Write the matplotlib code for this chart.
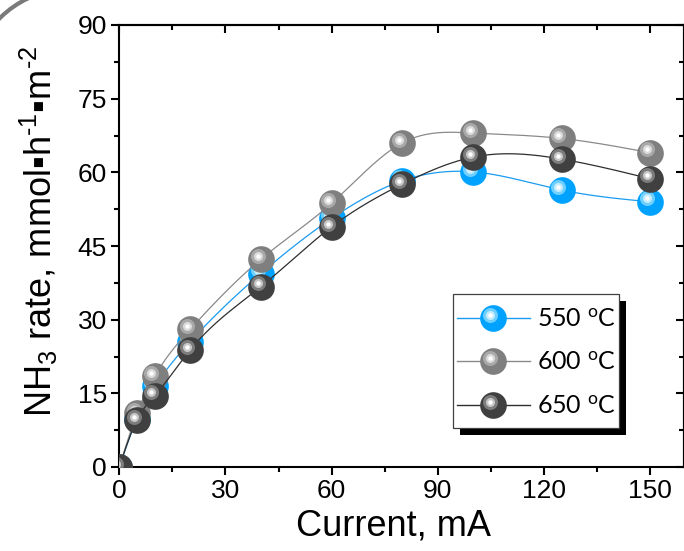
import numpy as np
import matplotlib
matplotlib.use("Agg")
import matplotlib.pyplot as plt
from matplotlib.lines import Line2D
from matplotlib.patches import Rectangle, Arc
from matplotlib.transforms import ScaledTranslation
from matplotlib.ticker import MultipleLocator
from matplotlib.legend_handler import HandlerBase

# data
current = [0, 5, 10, 20, 40, 60, 80, 100, 125, 150]
rate_550 = [0, 9.8, 16.4, 25.5, 39.4, 50.6, 58.3, 60.1, 56.4, 54.0]
rate_600 = [0, 10.9, 18.5, 28.0, 42.3, 53.7, 66.0, 68.0, 66.9, 64.0]
rate_650 = [0, 9.6, 14.5, 23.8, 36.7, 48.9, 57.6, 63.1, 62.7, 58.7]
labels = ["550 $^{\\mathdefault{o}}$C", "600 $^{\\mathdefault{o}}$C", "650 $^{\\mathdefault{o}}$C"]

# sphere look: base, ring, inner, centre ; line colour
styles = [
    dict(base="#00a2ff", ring="#6fd0ff", inner="#c4ecff", line="#1a9cf0"),
    dict(base="#7f7f7f", ring="#a9a9a9", inner="#dadada", line="#8a8a8a"),
    dict(base="#404040", ring="#7d7d7d", inner="#c8c8c8", line="#2e2e2e"),
]

MS = 19.2     # sphere size (pt)
HL = [(10.8, "ring"), (6.5, "inner"), (3.2, "white")]
OFF = 3.3     # highlight offset in px
W, H = 684, 551


def smooth(x, y, n=400):
    # natural cubic spline for the connecting line only
    x = np.asarray(x, float); y = np.asarray(y, float)
    k = len(x)
    h = np.diff(x)
    A = np.zeros((k, k)); b = np.zeros(k)
    A[0, 0] = A[-1, -1] = 1
    for i in range(1, k - 1):
        A[i, i - 1] = h[i - 1]
        A[i, i] = 2 * (h[i - 1] + h[i])
        A[i, i + 1] = h[i]
        b[i] = 6 * ((y[i + 1] - y[i]) / h[i] - (y[i] - y[i - 1]) / h[i - 1])
    M = np.linalg.solve(A, b)
    xs = np.linspace(x[0], x[-1], n)
    idx = np.clip(np.searchsorted(x, xs) - 1, 0, k - 2)
    x0, x1 = x[idx], x[idx + 1]
    hh = x1 - x0
    t0, t1 = x1 - xs, xs - x0
    ys = (M[idx] * t0**3 + M[idx + 1] * t1**3) / (6 * hh) \
        + (y[idx] / hh - M[idx] * hh / 6) * t0 + (y[idx + 1] / hh - M[idx + 1] * hh / 6) * t1
    return xs, ys


class SphereHandler(HandlerBase):
    def __init__(self, st):
        super().__init__()
        self.st = st

    def create_artists(self, legend, orig_handle, xdescent, ydescent,
                       width, height, fontsize, trans):
        st = self.st
        yc = height / 2 - ydescent
        xc = width / 2 - xdescent
        arts = [Line2D([-xdescent, width - xdescent], [yc, yc], color=st["line"], lw=1.0)]
        arts.append(Line2D([xc], [yc], marker="o", ms=MS, mfc=st["base"], mec="none", ls="none"))
        d = OFF * 0.72
        for ms, key in HL:
            c = "white" if key == "white" else st[key]
            arts.append(Line2D([xc - d], [yc + d], marker="o", ms=ms, mfc=c, mec="none", ls="none"))
        for a in arts:
            a.set_transform(trans)
        return arts


plt.rcParams["font.family"] = ["Liberation Sans", "DejaVu Sans"]
plt.rcParams["mathtext.fontset"] = "custom"
plt.rcParams["mathtext.rm"] = "Liberation Sans"

fig = plt.figure(figsize=(W / 100, H / 100), dpi=100)
ax = fig.add_axes([119.3 / W, 84 / H, (683.6 - 119.3) / W, 442 / H])

series = [rate_550, rate_600, rate_650]
hl_trans = ax.transData + ScaledTranslation(-OFF / 100, OFF / 100, fig.dpi_scale_trans)
handles = []
for i, (ys, st) in enumerate(zip(series, styles)):
    z = 3 + i
    sx, sy = smooth(current, ys)
    ax.plot(sx, sy, color=st["line"], lw=0.9, zorder=z)
    ax.plot(current, ys, "o", ms=MS, mfc=st["base"], mec="none", zorder=z + 0.1)
    for j, (ms, key) in enumerate(HL):
        c = "white" if key == "white" else st[key]
        ax.plot(current, ys, "o", ms=ms, mfc=c, mec="none", transform=hl_trans,
                zorder=z + 0.2 + 0.1 * j)
    handles.append(Line2D([], []))

ax.set_xlim(0, 159.5)
ax.set_ylim(0, 90)
ax.xaxis.set_major_locator(MultipleLocator(30))
ax.xaxis.set_minor_locator(MultipleLocator(15))
ax.yaxis.set_major_locator(MultipleLocator(15))
ax.yaxis.set_minor_locator(MultipleLocator(7.5))
for s in ax.spines.values():
    s.set_linewidth(1.5)
ax.tick_params(which="major", direction="out", length=6, width=1.5, labelsize=19, pad=3)
ax.tick_params(which="minor", direction="out", length=3.5, width=1.5)

top = ax.secondary_xaxis("top")
top.xaxis.set_major_locator(MultipleLocator(30))
top.xaxis.set_minor_locator(MultipleLocator(15))
top.tick_params(which="major", direction="in", length=6, width=1.5, labeltop=False)
top.tick_params(which="minor", direction="in", length=3.5, width=1.5)
top.spines["top"].set_linewidth(1.5)
right = ax.secondary_yaxis("right")
right.yaxis.set_major_locator(MultipleLocator(15))
right.yaxis.set_minor_locator(MultipleLocator(7.5))
right.tick_params(which="major", direction="in", length=6, width=1.5, labelright=False)
right.tick_params(which="minor", direction="in", length=3.5, width=1.5)
right.spines["right"].set_linewidth(1.5)

ax.set_xlabel("Current, mA", fontsize=26)
ax.xaxis.set_label_coords((393 - 119.3) / 564.3, -(509 - 467) / 442)
ax.set_ylabel("NH$_{\\mathdefault{3}}$ rate, mmol\u25aah$^{\\mathdefault{\u20101}}$\u25aam$^{\\mathdefault{\u20102}}$",
              fontsize=26)
ax.yaxis.set_label_coords(-(119.3 - 60) / 564.3, (467 - 231) / 442)

# legend: frame + shadow drawn by hand at the reference position
fx0, fy0 = 453 / W, (H - 428) / H
fw, fh = (619 - 453) / W, (428 - 294) / H
ax.add_artist(Rectangle((fx0 + 6.5 / W, fy0 - 6.5 / H), fw, fh, transform=fig.transFigure,
                        facecolor="black", edgecolor="none", zorder=9.8, clip_on=False))
ax.add_artist(Rectangle((fx0, fy0), fw, fh, transform=fig.transFigure, facecolor="white",
                        edgecolor="#404040", lw=0.9, zorder=9.9, clip_on=False))

leg = ax.legend(handles, labels, loc="center left",
                bbox_to_anchor=((456.7 - 119.3) / 564.3, (467 - 362.6) / 442),
                borderaxespad=0, borderpad=0, frameon=False, prop={"family": "Lato", "size": 18},
                handlelength=2.92, handletextpad=0.28, labelspacing=0.82,
                handler_map={h: SphereHandler(st) for h, st in zip(handles, styles)})
leg.set_zorder(10)

# grey arc fragment in the top-left corner
fig.add_artist(Arc((70 / W, 1 - 88 / H), 2 * 99 / W, 2 * 99 / H, theta1=95, theta2=170,
                   transform=fig.transFigure, color="#7a7a7a", lw=3))

fig.savefig("out.png", dpi=100)
